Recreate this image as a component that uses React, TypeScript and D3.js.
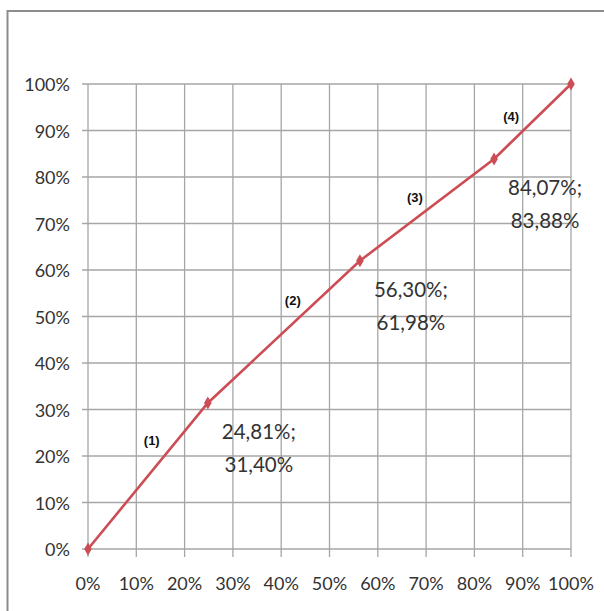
import * as d3 from 'd3'

const xVals = [0, 24.81, 56.3, 84.07, 100]
const yVals = [0, 31.4, 61.98, 83.88, 100]
const pointLabels = ['', '24,81%;|31,40%', '56,30%;|61,98%', '84,07%;|83,88%', '']
const ticks = [0, 10, 20, 30, 40, 50, 60, 70, 80, 90, 100]
const segLabels = ['(1)', '(2)', '(3)', '(4)']
// anchor of each segment label, in data units
const segX = [13.2, 42.4, 67.7, 87.6]
const segY = [23.4, 53.5, 75.5, 93.1]

const W = 604
const H = 611
const left = 88
const right = 571
const top = 84
const bottom = 549
const RED = '#cc4d55'
const GRID = '#a6a6a6'
const FONT = 'Lato, "Open Sans", sans-serif'

export default function App() {
  const x = d3.scaleLinear().domain([0, 100]).range([left, right])
  const y = d3.scaleLinear().domain([0, 100]).range([bottom, top])
  const pts = xVals.map((v, i) => [x(v), y(yVals[i])] as [number, number])
  const line = d3.line<[number, number]>()(pts) ?? ''
  const diamond = d3.symbol().type(d3.symbolDiamond).size(50)() ?? ''

  return (
    <svg width={W} height={H} style={{ position: 'fixed', left: 0, top: 0, display: 'block' }}>
      <rect width={W} height={H} fill="#fff" />
      <rect x={7.5} y={11} width={W + 10} height={H + 10} fill="none" stroke="#8c8c8c" strokeWidth={2} />

      {ticks.map((t) => (
        <g key={'g' + t}>
          <line x1={left - 6} x2={right} y1={y(t)} y2={y(t)} stroke={GRID} strokeWidth={1.3} />
          <line x1={x(t)} x2={x(t)} y1={top} y2={bottom + 8} stroke={GRID} strokeWidth={1.3} />
          <text x={70} y={y(t)} textAnchor="end" dominantBaseline="central" fontFamily={FONT} fontSize={18} fill="#333">
            {t}%
          </text>
          <text x={x(t)} y={583} textAnchor="middle" dominantBaseline="central" fontFamily={FONT} fontSize={18} fill="#333">
            {t}%
          </text>
        </g>
      ))}

      <path d={line} fill="none" stroke={RED} strokeWidth={2.6} />
      {pts.map((p, i) => (
        <path key={'m' + i} d={diamond} transform={`translate(${p[0]},${p[1]})`} fill={RED} />
      ))}

      {pts.map((p, i) =>
        pointLabels[i]
          ? pointLabels[i].split('|').map((s, j) => (
              <text
                key={'l' + i + j}
                x={p[0] + 51}
                y={p[1] + (j === 0 ? 28 : 61)}
                textAnchor="middle"
                dominantBaseline="central"
                fontFamily={FONT}
                fontSize={20.5}
                fill="#333"
              >
                {s}
              </text>
            ))
          : null
      )}

      {segLabels.map((s, i) => (
        <text
          key={s}
          x={x(segX[i])}
          y={y(segY[i])}
          textAnchor="middle"
          dominantBaseline="central"
          fontFamily={'"Liberation Sans Narrow", "Liberation Sans", sans-serif'}
          fontWeight="bold"
          fontSize={13}
          fill="#111"
        >
          {s}
        </text>
      ))}
    </svg>
  )
}
